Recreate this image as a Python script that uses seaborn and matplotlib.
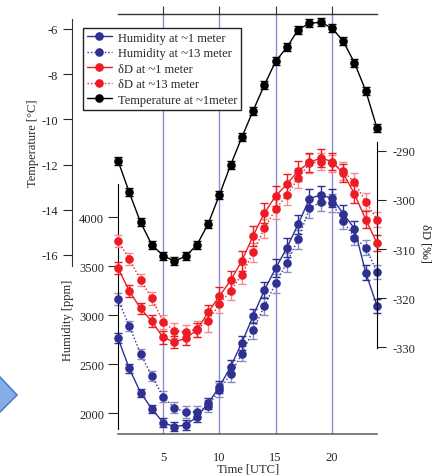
import matplotlib
matplotlib.use('Agg')
import matplotlib.pyplot as plt
import seaborn as sns
from matplotlib.lines import Line2D
from matplotlib.patches import Polygon

###########################################################################################
# data

hours = list(range(1, 25))

temp = [-11.83, -13.23, -14.55, -15.54, -16.03, -16.27, -16.06, -15.56, -14.63, -13.35,
        -12.02, -10.79, -9.61, -8.48, -7.43, -6.81, -6.03, -5.75, -5.70, -5.96,
        -6.54, -7.50, -8.73, -10.39]
temp_err = [0.18] * 24

hum_1m = [2765, 2459, 2211, 2048, 1905, 1864, 1881, 1962, 2102, 2270,
          2476, 2721, 2993, 3258, 3480, 3691, 3929, 4191, 4228, 4194,
          4038, 3885, 3436, 3095]
hum_13m = [3163, 2891, 2609, 2381, 2170, 2058, 2014, 2017, 2075, 2240,
           2398, 2609, 2847, 3095, 3327, 3538, 3776, 4092, 4156, 4143,
           3962, 3793, 3691, 3442]
hum_err_1m = [50, 45, 40, 40, 45, 45, 50, 50, 55, 60, 65, 70,
              75, 85, 90, 95, 95, 95, 90, 90, 85, 80, 75, 70]
hum_err_13m = [60, 50, 50, 50, 55, 55, 60, 60, 65, 70, 75, 80,
               85, 90, 95, 95, 95, 95, 90, 90, 85, 80, 75, 70]

dD_1m = [-313.9, -318.5, -322.1, -324.7, -328.0, -328.9, -328.2, -326.5, -322.9, -319.6,
         -316.4, -312.4, -307.3, -302.7, -299.2, -296.8, -294.1, -292.4, -291.5, -292.2,
         -294.6, -298.8, -304.0, -308.8]
dD_13m = [-308.3, -312.0, -316.3, -320.0, -324.8, -326.6, -326.9, -326.3, -324.6, -321.2,
          -318.5, -315.2, -310.7, -305.8, -301.9, -299.0, -295.6, -292.6, -292.2, -292.6,
          -294.2, -296.4, -300.4, -304.0]
dD_err_1m = [1.2, 1.2, 1.2, 1.2, 1.3, 1.3, 1.4, 1.5, 1.6, 1.8, 1.9, 2.0,
             2.0, 2.0, 2.0, 2.0, 2.0, 1.9, 1.8, 1.8, 1.8, 1.8, 1.7, 1.6]
dD_err_13m = [1.2, 1.2, 1.2, 1.3, 1.4, 1.5, 1.5, 1.6, 2.2, 1.8, 1.9, 2.0,
              2.0, 2.0, 2.0, 2.0, 2.0, 1.9, 1.8, 1.8, 1.8, 1.8, 1.7, 1.6]

time_ticks = [5, 10, 15, 20]
temp_ticks = [-6, -8, -10, -12, -14, -16]
hum_ticks = [2000, 2500, 3000, 3500, 4000]
dD_ticks = [-290, -300, -310, -320, -330]

labels = ['Humidity at ~1 meter', 'Humidity at ~13 meter', 'δD at ~1 meter',
          'δD at ~13 meter', 'Temperature at ~1meter']

###########################################################################################
# style

sns.set_style('ticks')
plt.rcParams['font.family'] = ['Liberation Serif', 'DejaVu Serif']
plt.rcParams['font.size'] = 9
plt.rcParams['axes.unicode_minus'] = False

BLUE = '#2e3192'
BLUE_LIGHT = '#8a8cc6'
RED = '#ed1c24'
RED_LIGHT = '#f28b90'
GRID = '#8d8bd2'

W, H = 444, 477


def fx(px):
    return px / W


def fy(py):
    return 1 - py / H


fig = plt.figure(figsize=(W / 100, H / 100), dpi=100)

# frame axes: time axis and vertical grid lines
ax_f = fig.add_axes([fx(118), fy(435), fx(377) - fx(118), fy(15) - fy(435)])
ax_f.set_xlim(1, 24)
ax_f.set_ylim(0, 1)
ax_f.set_yticks([])
ax_f.set_xticks(time_ticks)
for xv in time_ticks:
    ax_f.axvline(xv, color=GRID, linewidth=1, zorder=0)
for side in ['left', 'right']:
    ax_f.spines[side].set_visible(False)
ax_f.spines['bottom'].set_color('#666666')
ax_f.spines['top'].set_color('#333333')
ax_f.spines['bottom'].set_linewidth(1.2)
ax_f.spines['top'].set_linewidth(1.0)
ax_f.tick_params(axis='x', bottom=False, top=True, labelbottom=True, direction='out',
                 length=5.8, width=0.8, pad=6.5, labelsize=9, color='#333333')
ax_f.patch.set_visible(False)

# temperature axes
ax_t = fig.add_axes([fx(118), fy(267), fx(377) - fx(118), fy(20) - fy(267)], sharex=ax_f)
ax_t.set_ylim(-16.487, -5.558)
ax_t.patch.set_visible(False)
for side in ['top', 'right', 'bottom']:
    ax_t.spines[side].set_visible(False)
ax_t.spines['left'].set_position(('outward', 33))
ax_t.spines['left'].set_color('#333333')
ax_t.set_yticks(temp_ticks)
ax_t.tick_params(axis='y', direction='out', length=6.5, width=0.8, pad=3.5, labelsize=9)
ax_t.tick_params(axis='x', bottom=False, labelbottom=False)

# humidity axes
ax_h = fig.add_axes([fx(118), fy(430), fx(377) - fx(118), fy(185) - fy(430)], sharex=ax_f)
ax_h.set_ylim(1840, 4340)
ax_h.patch.set_visible(False)
for side in ['top', 'right', 'bottom']:
    ax_h.spines[side].set_visible(False)
ax_h.spines['left'].set_color('black')
ax_h.set_yticks(hum_ticks)
ax_h.tick_params(axis='y', direction='out', length=7, width=0.8, pad=3, labelsize=9)
ax_h.tick_params(axis='x', bottom=False, labelbottom=False)

# deuterium axes
ax_d = fig.add_axes([fx(118), fy(349), fx(377) - fx(118), fy(143) - fy(349)], sharex=ax_f)
ax_d.set_ylim(-330.14, -288.23)
ax_d.patch.set_visible(False)
for side in ['top', 'left', 'bottom']:
    ax_d.spines[side].set_visible(False)
ax_d.yaxis.tick_right()
ax_d.spines['right'].set_color('black')
ax_d.set_yticks(dD_ticks)
ax_d.tick_params(axis='y', direction='out', length=6.5, width=0.8, pad=5, labelsize=9)
ax_d.tick_params(axis='x', bottom=False, labelbottom=False)

ax_f.set_xlim(1, 24)


###########################################################################################
# series

def draw(ax, y, err, color, ecolor, ls):
    ax.errorbar(hours, y, yerr=err, fmt='none', ecolor=ecolor, elinewidth=1,
                capsize=3.2, capthick=1, clip_on=False, zorder=2)
    sns.lineplot(x=hours, y=y, ax=ax, color=color, linestyle=ls, linewidth=1,
                 marker='o', markersize=6.2, markeredgewidth=0, clip_on=False,
                 zorder=3, legend=False)


draw(ax_h, hum_13m, hum_err_13m, BLUE, BLUE_LIGHT, (0, (1, 1.5)))
draw(ax_h, hum_1m, hum_err_1m, BLUE, BLUE, '-')
draw(ax_d, dD_13m, dD_err_13m, RED, RED_LIGHT, (0, (1, 1.5)))
draw(ax_d, dD_1m, dD_err_1m, RED, RED, '-')
draw(ax_t, temp, temp_err, 'black', 'black', '-')

for ax in [ax_t, ax_h, ax_d]:
    ax.set_xlabel('')
    ax.set_ylabel('')

# axis titles
fig.text(fx(33), fy(143), 'Temperature [°C]', rotation=90, ha='center', va='center', fontsize=9)
fig.text(fx(68), fy(320), 'Humidity [ppm]', rotation=90, ha='center', va='center', fontsize=9)
fig.text(fx(425), fy(243), 'δD [‰]', rotation=270, ha='center', va='center', fontsize=9)
fig.text(fx(248), fy(470), 'Time [UTC]', ha='center', va='center', fontsize=9)

# legend
handles = [
    Line2D([], [], color=BLUE, linestyle='-', linewidth=1, marker='o', markersize=6.2, markeredgewidth=0),
    Line2D([], [], color=BLUE, linestyle=(0, (1, 1.5)), linewidth=1, marker='o', markersize=6.2, markeredgewidth=0),
    Line2D([], [], color=RED, linestyle='-', linewidth=1, marker='o', markersize=6.2, markeredgewidth=0),
    Line2D([], [], color=RED, linestyle=(0, (1, 1.5)), linewidth=1, marker='o', markersize=6.2, markeredgewidth=0),
    Line2D([], [], color='black', linestyle='-', linewidth=1, marker='o', markersize=6.2, markeredgewidth=0),
]
leg = fig.legend(handles, labels, loc='upper left', bbox_to_anchor=(fx(83), fy(29)),
                 bbox_transform=fig.transFigure, borderaxespad=0, frameon=True,
                 fancybox=False, framealpha=1, edgecolor='#222222', fontsize=9,
                 handlelength=2.0, handletextpad=0.5, labelspacing=0.28, borderpad=0.3)
leg.get_frame().set_linewidth(1.0)

# decorative arrow at left edge
fig.patches.append(Polygon([(fx(-20), fy(378)), (fx(0), fy(378)), (fx(17), fy(396)),
                            (fx(0), fy(413)), (fx(-20), fy(413))], closed=True,
                           transform=fig.transFigure, facecolor='#85aee8',
                           edgecolor='#4d7fcf', linewidth=1.2))

fig.savefig('out.png', dpi=100)
